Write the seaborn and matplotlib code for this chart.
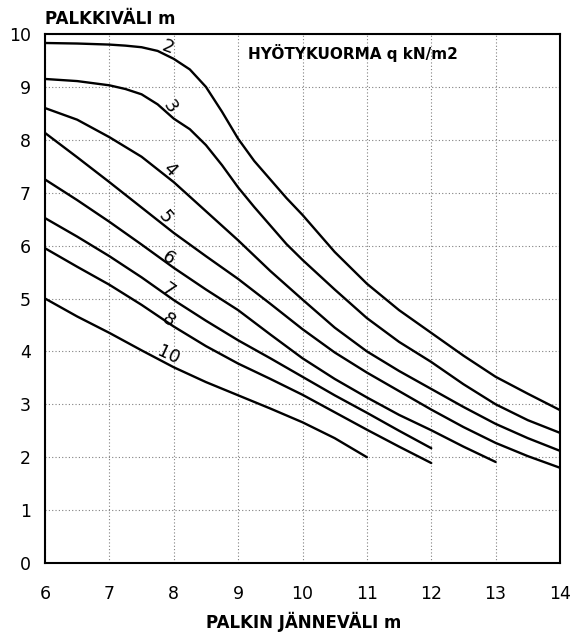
import matplotlib
matplotlib.use("Agg")
import matplotlib.pyplot as plt
import pandas as pd
import seaborn as sns

# Beam spacing (m) versus beam span (m) for each imposed load q (kN/m2)
span_q2 = [6, 6.5, 7, 7.25, 7.5, 7.75, 8, 8.25, 8.5, 8.75, 9, 9.25, 9.5, 9.75, 10,
           10.5, 11, 11.5, 12, 12.5, 13, 13.5, 14]
spacing_q2 = [9.83, 9.82, 9.80, 9.78, 9.75, 9.68, 9.53, 9.33, 9.0, 8.53, 8.02, 7.6,
              7.25, 6.9, 6.58, 5.88, 5.28, 4.78, 4.35, 3.92, 3.52, 3.2, 2.89]

span_q3 = [6, 6.5, 7, 7.25, 7.5, 7.75, 8, 8.25, 8.5, 8.75, 9, 9.25, 9.5, 9.75, 10,
           10.5, 11, 11.5, 12, 12.5, 13, 13.5, 14]
spacing_q3 = [9.15, 9.11, 9.03, 8.96, 8.86, 8.67, 8.4, 8.2, 7.9, 7.52, 7.1, 6.73,
              6.38, 6.03, 5.73, 5.17, 4.63, 4.18, 3.8, 3.38, 3.0, 2.7, 2.46]

span_q4 = [6, 6.5, 7, 7.5, 8, 8.5, 9, 9.5, 10, 10.5, 11, 11.5, 12, 12.5, 13, 13.5, 14]
spacing_q4 = [8.6, 8.38, 8.05, 7.68, 7.2, 6.65, 6.1, 5.52, 4.98, 4.45, 4.0, 3.63,
              3.29, 2.95, 2.63, 2.36, 2.12]

span_q5 = [6, 6.5, 7, 7.5, 8, 8.5, 9, 9.5, 10, 10.5, 11, 11.5, 12, 12.5, 13, 13.5, 14]
spacing_q5 = [8.13, 7.67, 7.2, 6.72, 6.24, 5.8, 5.37, 4.9, 4.42, 3.98, 3.6, 3.25,
              2.9, 2.57, 2.27, 2.02, 1.80]

span_q6 = [6, 6.5, 7, 7.5, 8, 8.5, 9, 9.5, 10, 10.5, 11, 11.5, 12, 12.5, 13]
spacing_q6 = [7.25, 6.86, 6.45, 6.02, 5.58, 5.17, 4.78, 4.32, 3.87, 3.48, 3.13, 2.8,
              2.51, 2.2, 1.91]

span_q7 = [6, 6.5, 7, 7.5, 8, 8.5, 9, 9.5, 10, 10.5, 11, 11.5, 12]
spacing_q7 = [6.52, 6.17, 5.8, 5.4, 4.97, 4.58, 4.21, 3.87, 3.52, 3.17, 2.84, 2.5, 2.17]

span_q8 = [6, 6.5, 7, 7.5, 8, 8.5, 9, 9.5, 10, 10.5, 11, 11.5, 12]
spacing_q8 = [5.95, 5.6, 5.26, 4.88, 4.47, 4.1, 3.77, 3.48, 3.18, 2.85, 2.52, 2.2, 1.89]

span_q10 = [6, 6.5, 7, 7.5, 8, 8.5, 9, 9.5, 10, 10.5, 11]
spacing_q10 = [5.0, 4.66, 4.35, 4.02, 3.7, 3.42, 3.17, 2.92, 2.66, 2.36, 2.0]

loads = ["2", "3", "4", "5", "6", "7", "8", "10"]
spans = [span_q2, span_q3, span_q4, span_q5, span_q6, span_q7, span_q8, span_q10]
spacings = [spacing_q2, spacing_q3, spacing_q4, spacing_q5, spacing_q6, spacing_q7,
            spacing_q8, spacing_q10]

# Curve label anchors (span, spacing) and text rotation
label_x = [7.91, 7.94, 7.94, 7.86, 7.91, 7.91, 7.91, 7.91]
label_y = [9.74, 8.62, 7.43, 6.54, 5.77, 5.16, 4.59, 3.93]
label_rot = [-20, -55, -45, -50, -35, -35, -35, -25]

x_ticks = [6, 7, 8, 9, 10, 11, 12, 13, 14]
y_ticks = [0, 1, 2, 3, 4, 5, 6, 7, 8, 9, 10]

rows = []
for load, xs, ys in zip(loads, spans, spacings):
    for xv, yv in zip(xs, ys):
        rows.append({"load": load, "span": xv, "spacing": yv})
df = pd.DataFrame(rows)

sns.set_theme(style="white")
plt.rcParams["font.family"] = ["DejaVu Sans"]
plt.rcParams["text.color"] = "black"

fig = plt.figure(figsize=(5.71, 6.34), dpi=100)
ax = fig.add_axes([45 / 571, 1 - 563 / 634, (560 - 45) / 571, (563 - 34) / 634])

sns.lineplot(data=df, x="span", y="spacing", hue="load", units="load",
             estimator=None, sort=False, palette={l: "black" for l in loads},
             legend=False, linewidth=1.7, ax=ax)
for line in ax.get_lines():
    line.set_solid_joinstyle("round")

for load, lx, ly, rot in zip(loads, label_x, label_y, label_rot):
    ax.text(lx, ly, load, rotation=rot, ha="center", va="center",
            fontsize=13, color="black")

ax.set_xlim(6, 14)
ax.set_ylim(0, 10)
ax.set_xticks(x_ticks)
ax.set_yticks(y_ticks)
ax.set_xlabel("")
ax.set_ylabel("")
ax.grid(True, color="#808080", linestyle=(0, (1, 2)), linewidth=0.8)
for side in ["left", "right", "top", "bottom"]:
    ax.spines[side].set_visible(True)
    ax.spines[side].set_color("black")
    ax.spines[side].set_linewidth(1.5)
ax.tick_params(axis="both", direction="out", length=5, width=1.2,
               colors="black", labelsize=12.5)
ax.tick_params(axis="x", pad=11)
ax.tick_params(axis="y", pad=5)

fig.text(45 / 571, 1 - 19 / 634, "PALKKIVÄLI m", ha="left", va="center",
         fontsize=12, fontweight="bold", color="black")
fig.text(248 / 571, 1 - 53 / 634, "HYÖTYKUORMA q kN/m2", ha="left", va="center",
         fontsize=11, fontweight="bold", color="black")
fig.text(304 / 571, 1 - 622 / 634, "PALKIN JÄNNEVÄLI m", ha="center", va="center",
         fontsize=12, fontweight="bold", color="black")

fig.savefig("out.png", dpi=100, facecolor="white")
